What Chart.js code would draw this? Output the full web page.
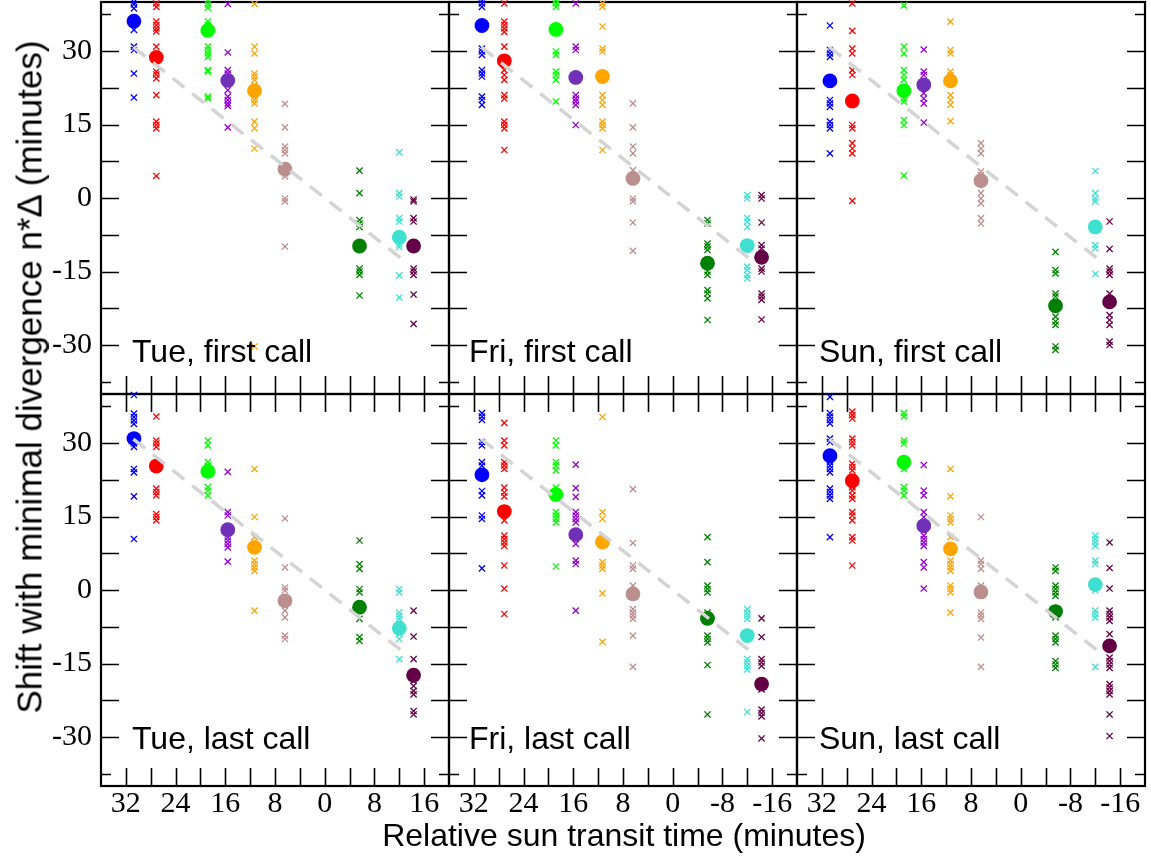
<!DOCTYPE html>
<html>
<head>
<meta charset="utf-8">
<script src="https://cdn.jsdelivr.net/npm/chart.js@4.4.1/dist/chart.umd.min.js"></script>
<style>
html,body{margin:0;padding:0;background:#fff;}
#wrap{position:relative;width:1151px;height:863px;overflow:hidden;background:#fff;}
#wrap canvas{position:absolute;}
.lbl{position:absolute;font-family:"Liberation Sans",Arial,sans-serif;font-size:32px;line-height:32px;color:#000;white-space:nowrap;}
</style>
</head>
<body>
<div id="wrap"></div>
<script>
// ---------- data ----------
const groupX = [30.7, 27.1, 18.8, 15.6, 11.3, 6.4, -5.6, -12.0, -14.3];
const crossColors = ['#0000ff','#ff0000','#00ff00','#9400d3','#ffa500','#bc8f8f','#008000','#40e0d0','#660044'];
const meanColors  = ['#0000ff','#ff0000','#00ff00','#7030b8','#ffa500','#bc8f8f','#008000','#40e0d0','#640046'];
const panelNames = ['Tue, first call','Fri, first call','Sun, first call','Tue, last call','Fri, last call','Sun, last call'];
const refLine = [30.8, -12.9];

const xTickValues = [32, 24, 16, 8, 0, -8, -16];
const xTickLabelsFirstCol = ['32','24','16','8','0','8','16'];
const xTickLabelsOtherCols = ['32','24','16','8','0','-8','-16'];
const yTickValues = [-30, -15, 0, 15, 30];
const yTickLabels = ['-30','-15','0','15','30'];
const xTickMarks = [32, 28, 24, 20, 16, 12, 8, 4, 0, -4, -8, -12, -16];
const yTickMarks = [-37.5, -30, -22.5, -15, -7.5, 0, 7.5, 15, 22.5, 30, 37.5];

const tueFirstSamples = [
 [40, 39.5, 38.7, 34.3, 30.9, 30.2, 25.4, 20.5],
 [39.7, 39, 36, 35.3, 34.6, 34, 30.9, 25.8, 25.2, 24.4, 21, 15.6, 14.9, 14.2, 4.5],
 [40.2, 39.5, 38.8, 36, 35.3, 30.9, 30.2, 29.5, 28.8, 26.1, 25.8, 20.7, 20.3],
 [39.6, 29.7, 26.1, 25.4, 22, 20.7, 20, 19.3, 18.8, 14.4],
 [39.6, 30.9, 29.5, 25.4, 24.8, 24.1, 23, 20.7, 20, 19.3, 15.6, 14.2, 10.1, -30.3],
 [19.2, 14.4, 10.5, 9.8, 9.1, 6.5, 5, 4.4, -0.1, -0.7, -9.9],
 [5.6, 1, -4.5, -5.2, -5.9, -14.4, -15, -15.7, -19.9],
 [9.3, 1, 0.3, -4.1, -4.8, -9.5, -10, -15.8, -20.3],
 [-0.3, -0.7, -4.1, -4.8, -14.4, -15, -15.7, -19.7, -25.7]
];
const tueFirstMeans = [36.1, 28.7, 34.2, 24.0, 21.9, 5.9, -9.8, -8.0, -9.8];

const friFirstSamples = [
 [40.4, 39.7, 39, 30.5, 29.9, 29.2, 26.1, 25.4, 24.8, 20.7, 20, 19],
 [39.7, 36, 35.3, 34.6, 33.9, 30.9, 26.1, 25.1, 24.1, 21, 20.3, 15.6, 14.9, 14.2, 9.8],
 [40.4, 39.7, 39, 29.9, 29.2, 25.8, 25.1, 24.1, 19.7],
 [39.7, 30.9, 30.2, 21, 20.3, 19.7, 19, 14.9],
 [39.7, 39, 35, 30.5, 29.9, 21, 20, 19, 15.6, 14.9, 14.2, 9.8],
 [19.3, 14.4, 10.5, 9.1, 5.7, -0.1, -0.7, -5, -10.8],
 [-4.5, -5.2, -9.3, -9.9, -10.6, -15, -15.7, -18.8, -19.5, -20.5, -24.9],
 [0.6, -0.1, -4.1, -4.8, -5.9, -14, -14.7, -15.7, -16.4],
 [0.6, -0.1, -5, -9.6, -10.3, -14.4, -15, -19.5, -20.1, -20.8, -24.8]
];
const friFirstMeans = [35.2, 28, 34.4, 24.6, 24.8, 4, -13.3, -9.7, -12.1];

const sunFirstSamples = [
 [35.2, 30.2, 29.5, 28.8, 20, 19.3, 18.6, 15.6, 14.9, 14.2, 9.1],
 [39.7, 34.1, 30.5, 29.5, 26.1, 25.1, 14.9, 14.2, 11.2, 10.1, 9.1, -0.6],
 [39.3, 30.9, 29.5, 26.1, 25.1, 24.1, 20.3, 19.7, 15.9, 14.9, 4.6],
 [30.3, 25.8, 25.1, 21.4, 20.3, 19.3, 15.4],
 [36, 30.2, 29.5, 25.8, 25.1, 21, 20, 19, 15.7],
 [11.2, 10.1, 9.1, 5.4, 4.7, 1, -0.1, -1.1, -4.1, -5.2],
 [-11, -14.7, -15.4, -19.5, -20.1, -24.2, -25.2, -25.9, -30.3, -31],
 [5.5, 1, -0.1, -0.7, -9.6, -10.3, -15.5],
 [-4.8, -10.4, -14.4, -15, -15.7, -19.5, -23.9, -24.9, -25.9, -29.3, -30]
];
const sunFirstMeans = [23.9, 19.8, 21.9, 23.1, 23.9, 3.5, -22, -5.9, -21.2];

const tueLastSamples = [
 [39.8, 36, 35.3, 34.6, 33.9, 29.9, 29.2, 24.7, 24, 19.1, 10.4],
 [35.4, 30.5, 29.9, 29.2, 20.7, 20, 19.3, 15.5, 14.9, 14.2],
 [30.5, 29.5, 26.1, 25.4, 21, 20.3, 19.3],
 [24.1, 15.9, 15.2, 10.8, 10.1, 9.4, 8.7, 5.8],
 [24.7, 14.9, 10.8, 6, 5.3, 4.6, 3.9, -4.2],
 [14.6, 4.6, 0.5, -0.1, -4.2, -5.6, -9.3, -10],
 [10.1, 5.3, 4.3, 0.2, -0.5, -5.9, -9.6, -10.4],
 [0.2, -0.5, -4.6, -5.3, -5.9, -9, -10, -14.1],
 [-4.2, -9.5, -14.1, -18.5, -19.6, -20.6, -21.3, -24.7, -25.4]
];
const tueLastMeans = [30.9, 25.3, 24.2, 12.3, 8.7, -2.2, -3.5, -7.8, -17.4];

const friLastSamples = [
 [36.1, 35.4, 34.7, 30.2, 29.5, 26.1, 25.4, 20.2, 19.3, 15.2, 14.5, 4.4],
 [34.1, 30.5, 29.5, 26.1, 25.4, 24.7, 20.9, 19.9, 19.1, 14.2, 11.1, 10.4, 9.7, 9, 5, 0.3, -4.9],
 [30.5, 29.5, 26.1, 25.4, 24.4, 20.9, 15.9, 15.2, 14.5, 13.8, 4.8],
 [25.6, 20.8, 19, 15.9, 15.2, 14.5, 13.8, 9.4, 6, 5.3, -4.2],
 [35.3, 15.9, 14.5, 5.7, 5, 4.3, -0.7, -10.6],
 [20.6, 9.6, 5, 4.3, 0.9, -3.9, -4.6, -5.2, -5.9, -9.3, -15.7],
 [10.8, 5.7, 0.9, 0.2, -0.5, -4.6, -9.3, -10, -10.7, -15.3, -25.4],
 [-3.9, -4.6, -5.2, -5.9, -14.1, -14.8, -15.5, -16.2, -24.9],
 [-5.8, -9.6, -14.1, -14.8, -15.5, -20.3, -24.4, -25.1, -25.8, -30.3]
];
const friLastMeans = [23.5, 16, 19.5, 11.3, 9.8, -0.8, -5.8, -9.3, -19.2];

const sunLastSamples = [
 [39.4, 36.1, 35.4, 34.7, 34, 30.9, 30.2, 26.1, 25.4, 24.7, 24, 20.7, 20, 19.3, 18.6, 10.8],
 [36.4, 35.7, 35, 30.9, 30.2, 29.5, 25.8, 25.1, 24.4, 21, 20.3, 19.3, 18.6, 15.9, 15.2, 14.2, 10.8, 10.1, 5],
 [36.1, 35.4, 30.5, 29.9, 24.7, 21, 20.3, 19.3],
 [25.5, 20.3, 19.3, 15.9, 14.9, 11.1, 10.4, 9.7, 9, 5.7, 4.6, 0.3],
 [24.7, 19.1, 15.2, 14.5, 13.8, 10.8, 6, 5.3, 4.6, 3.9, 0.9, 0.2, -0.5, -4.6],
 [14.9, 6, 5.3, 4.3, 0.9, -4.6, -5.2, -5.9, -9.7, -15.7],
 [4.6, 3.9, 0.9, 0.2, -0.5, -1.2, -5.6, -9.3, -10, -10.7, -14.5, -15.2, -15.9],
 [11.1, 10.4, 9.7, 9, 6, 5.3, -0.1, -4.2, -4.9, -5.6, -15.7],
 [9.7, 4.5, 0.3, -4.2, -4.9, -5.6, -6.3, -9, -13.8, -14.5, -15.2, -15.9, -19.2, -19.9, -20.6, -21.3, -25.4, -29.8]
];
const sunLastMeans = [27.4, 22.3, 26.1, 13.1, 8.4, -0.4, -4.4, 1.1, -11.4];

// ---------- layout ----------
const W = 1151, H = 863;
const OFF = 60;                 // canvas extends beyond the page on every side
const CW = W + 2 * OFF, CH = H + 2 * OFF;
const colLeft = [101, 449, 797];
const rowTop = [2, 394];
const PW = 348, PH = 392;
const TICK = 18;

const panels = [
  {samples: tueFirstSamples, means: tueFirstMeans, col: 0, row: 0, name: panelNames[0]},
  {samples: friFirstSamples, means: friFirstMeans, col: 1, row: 0, name: panelNames[1]},
  {samples: sunFirstSamples, means: sunFirstMeans, col: 2, row: 0, name: panelNames[2]},
  {samples: tueLastSamples,  means: tueLastMeans,  col: 0, row: 1, name: panelNames[3]},
  {samples: friLastSamples,  means: friLastMeans,  col: 1, row: 1, name: panelNames[4]},
  {samples: sunLastSamples,  means: sunLastMeans,  col: 2, row: 1, name: panelNames[5]}
];
const labelLeft = [132, 469, 819];
const labelBaseline = [362, 749];

const framePlugin = {
  id: 'frame',
  beforeDatasetsDraw(chart, args, opts) {
    const {ctx, chartArea: a} = chart;
    const xs = chart.scales.x, ys = chart.scales.y;
    ctx.save();
    ctx.strokeStyle = '#000';
    ctx.lineWidth = 1.6;
    ctx.beginPath();
    xTickMarks.forEach(v => {
      const px = Math.round(xs.getPixelForValue(v)) + 0.5;
      ctx.moveTo(px, a.bottom); ctx.lineTo(px, a.bottom - TICK);
      if (opts.topTicks) { ctx.moveTo(px, a.top); ctx.lineTo(px, a.top + TICK); }
    });
    yTickMarks.forEach(v => {
      const py = Math.round(ys.getPixelForValue(v)) + 0.5;
      const len = Math.abs(v) > 35 ? 10 : TICK;
      ctx.moveTo(a.left, py); ctx.lineTo(a.left + len, py);
      ctx.moveTo(a.right, py); ctx.lineTo(a.right - len, py);
    });
    ctx.stroke();
    ctx.lineWidth = 2.2;
    ctx.strokeRect(a.left, a.top, a.right - a.left, a.bottom - a.top);
    ctx.restore();
  }
};

const wrap = document.getElementById('wrap');

panels.forEach((p) => {
  const canvas = document.createElement('canvas');
  canvas.width = CW; canvas.height = CH;
  canvas.style.width = CW + 'px'; canvas.style.height = CH + 'px';
  canvas.style.left = (-OFF) + 'px'; canvas.style.top = (-OFF) + 'px';
  wrap.appendChild(canvas);
  const L = colLeft[p.col] + OFF, T = rowTop[p.row] + OFF;
  const showX = p.row === 1, showY = p.col === 0;
  const xLabels = p.col === 0 ? xTickLabelsFirstCol : xTickLabelsOtherCols;
  const xBoxH = CH - T - PH;

  const datasets = [];
  datasets.push({
    type: 'line', data: refLine.map(v => ({x: v, y: v})),
    borderColor: '#d4d4d4', borderWidth: 3.5, borderDash: [15, 10],
    pointRadius: 0, fill: false, order: 0, clip: false
  });
  p.means.forEach((m, g) => datasets.push({
    type: 'scatter', data: [{x: groupX[g], y: m}],
    pointStyle: 'circle', pointRadius: 7.4, pointHoverRadius: 7.4,
    backgroundColor: meanColors[g], borderColor: meanColors[g], borderWidth: 0,
    order: 1, clip: false
  }));
  p.samples.forEach((arr, g) => datasets.push({
    type: 'scatter', data: arr.map(v => ({x: groupX[g], y: v})),
    pointStyle: 'crossRot', pointRadius: 4.4, pointHoverRadius: 4.4,
    borderColor: crossColors[g], backgroundColor: crossColors[g], borderWidth: 1.3,
    order: 2, clip: false
  }));

  new Chart(canvas, {
    type: 'scatter',
    data: {datasets},
    options: {
      responsive: false,
      animation: false,
      devicePixelRatio: 1,
      events: [],
      layout: {autoPadding: false, padding: {left: 0, top: T, right: CW - L - PW, bottom: 0}},
      plugins: {legend: {display: false}, tooltip: {enabled: false}, title: {display: false}, frame: {topTicks: p.row === 1}},
      scales: {
        x: {
          type: 'linear', min: -20, max: 36, reverse: true, position: 'bottom',
          grid: {display: false, drawTicks: false}, border: {display: false},
          afterBuildTicks: s => { s.ticks = xTickValues.map(v => ({value: v})); },
          afterFit: s => { s.height = xBoxH; },
          ticks: {
            display: showX, autoSkip: false, maxRotation: 0, minRotation: 0, padding: 0,
            color: '#000', font: {family: '"Liberation Serif", "Times New Roman", serif', size: 30},
            callback: (v, i) => xLabels[i]
          }
        },
        y: {
          type: 'linear', min: -40, max: 40, position: 'left',
          grid: {display: false, drawTicks: false}, border: {display: false},
          afterBuildTicks: s => { s.ticks = yTickValues.map(v => ({value: v})); },
          afterFit: s => { s.width = L; },
          ticks: {
            display: showY, autoSkip: false, padding: 9,
            color: '#000', font: {family: '"Liberation Serif", "Times New Roman", serif', size: 30},
            callback: (v, i) => yTickLabels[i]
          }
        }
      }
    },
    plugins: [framePlugin]
  });

  const d = document.createElement('div');
  d.className = 'lbl';
  d.textContent = p.name;
  d.style.left = labelLeft[p.col] + 'px';
  d.style.top = (labelBaseline[p.row] - 27) + 'px';
  wrap.appendChild(d);
});

const xt = document.createElement('div');
xt.className = 'lbl';
xt.textContent = 'Relative sun transit time (minutes)';
xt.style.left = '624px';
xt.style.top = '819px';
xt.style.transform = 'translateX(-50%)';
wrap.appendChild(xt);

const yt = document.createElement('div');
yt.className = 'lbl';
yt.textContent = 'Shift with minimal divergence n*\u0394 (minutes)';
yt.style.fontSize = '35px';
yt.style.lineHeight = '35px';
yt.style.left = '29px';
yt.style.top = '377px';
yt.style.transform = 'translate(-50%,-50%) rotate(-90deg)';
wrap.appendChild(yt);
</script>
</body>
</html>
